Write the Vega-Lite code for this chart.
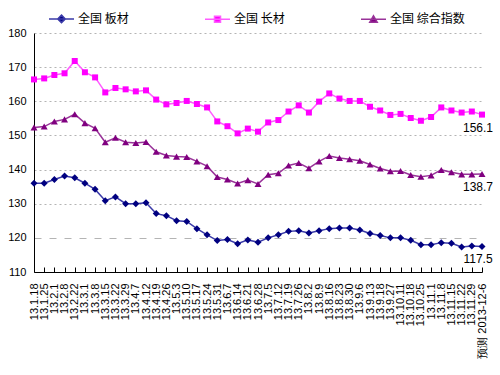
{
"$schema": "https://vega.github.io/schema/vega-lite/v6.json",
"width": 448, "height": 239,
"autosize": "none",
"padding": {"left": 34, "top": 33, "right": 18, "bottom": 103},
"background": "white",
"config": {"view": {"stroke": null}, "font": "Liberation Sans"},
"data": {"values": [
{"d":"13.1.18","b":136,"c":166.4,"z":152.3},
{"d":"13.1.25","b":136,"c":166.7,"z":152.6},
{"d":"13.2.1","b":137.1,"c":167.7,"z":154.1},
{"d":"13.2.8","b":138.1,"c":168.2,"z":154.7},
{"d":"13.2.22","b":137.6,"c":171.8,"z":156.2},
{"d":"13.3.1","b":136,"c":168.5,"z":153.6},
{"d":"13.3.8","b":134.2,"c":167,"z":152.1},
{"d":"13.3.15","b":130.9,"c":162.6,"z":148},
{"d":"13.3.22","b":132,"c":163.9,"z":149.3},
{"d":"13.3.29","b":130,"c":163.5,"z":148},
{"d":"13.4.7","b":130,"c":162.9,"z":147.8},
{"d":"13.4.12","b":130.3,"c":163.2,"z":148.1},
{"d":"13.4.19","b":127.1,"c":160.5,"z":145.2},
{"d":"13.4.26","b":126.5,"c":159.1,"z":144.1},
{"d":"13.5.3","b":125,"c":159.5,"z":143.8},
{"d":"13.5.10","b":124.8,"c":160.1,"z":143.7},
{"d":"13.5.17","b":122.7,"c":159.2,"z":142.4},
{"d":"13.5.24","b":120.9,"c":158.2,"z":141},
{"d":"13.5.31","b":119.2,"c":154.1,"z":137.8},
{"d":"13.6.7","b":119.5,"c":152.7,"z":137.1},
{"d":"13.6.14","b":118.3,"c":150.6,"z":135.9},
{"d":"13.6.21","b":119.4,"c":152,"z":136.9},
{"d":"13.6.28","b":118.7,"c":151.1,"z":135.8},
{"d":"13.7.5","b":120,"c":153.8,"z":138.5},
{"d":"13.7.12","b":120.9,"c":154.5,"z":138.9},
{"d":"13.7.19","b":121.9,"c":157,"z":141.2},
{"d":"13.7.26","b":122.1,"c":158.8,"z":141.9},
{"d":"13.8.2","b":121.4,"c":156.7,"z":140.4},
{"d":"13.8.9","b":122.1,"c":159.9,"z":142.4},
{"d":"13.8.16","b":122.7,"c":162.3,"z":144},
{"d":"13.8.23","b":122.9,"c":160.8,"z":143.4},
{"d":"13.8.30","b":122.9,"c":160.1,"z":143},
{"d":"13.9.6","b":122.3,"c":160.1,"z":142.6},
{"d":"13.9.13","b":121.3,"c":158.4,"z":141.5},
{"d":"13.9.18","b":120.7,"c":157.3,"z":140.3},
{"d":"13.9.27","b":120,"c":156,"z":139.5},
{"d":"13.10.11","b":120,"c":156.3,"z":139.6},
{"d":"13.10.18","b":119.3,"c":155.1,"z":138.4},
{"d":"13.10.25","b":118,"c":154.3,"z":137.9},
{"d":"13.11.1","b":118,"c":155.4,"z":138.3},
{"d":"13.11.8","b":118.6,"c":158.2,"z":139.9},
{"d":"13.11.15","b":118.4,"c":157.3,"z":139.2},
{"d":"13.11.22","b":117.3,"c":156.7,"z":138.6},
{"d":"13.11.29","b":117.6,"c":157,"z":138.6},
{"d":"预测 2013-12-6","b":117.5,"c":156.1,"z":138.7}
]},
"encoding": {
  "x": {"field":"d","type":"ordinal","sort":null,"scale":{"type":"point","padding":0},
        "axis":{"title":null,"labelAngle":-90,"labelFontSize":11,"labelFont":"Liberation Sans","labelColor":"#000","domainColor":"#000","tickColor":"#000","tickSize":-5,"labelPadding":16,"labelOverlap":false,"grid":false}},
  "y": {"field":"v","type":"quantitative","scale":{"domain":[110,180],"nice":false,"zero":false},
        "axis":{"title":null,"values":[110,120,130,140,150,160,170,180],"ticks":false,"labelPadding":8,"labelFontSize":11,"labelColor":"#000","domainColor":"#000","grid":true,"gridColor":"#B4B4B4",
                "gridDash":{"condition":{"test":"datum.value == 120","value":[7,8]},"value":[2,3]},
                "gridOpacity":{"condition":{"test":"datum.value == 110","value":0},"value":1}}}
},
"layer": [
  {"transform": [{"fold": ["b","c","z"], "as": ["k","v"]}],
   "mark":{"type":"line","strokeWidth":1.5},
   "encoding":{"stroke":{"field":"k","type":"nominal","scale":{"domain":["b","c","z"],"range":["#3A3AA8","#FF5CFF","#993399"]}}}},
  {"transform": [{"fold": ["b"], "as": ["k2","v"]}],
   "mark":{"type":"point","filled":true,"opacity":1,"shape":"diamond","size":49,"color":"#000080"}},
  {"transform": [{"fold": ["c"], "as": ["k2","v"]}],
   "mark":{"type":"point","filled":true,"opacity":1,"shape":"square","size":36,"color":"#FF00FF"}},
  {"transform": [{"fold": ["z"], "as": ["k2","v"]}],
   "mark":{"type":"point","filled":true,"opacity":1,"shape":"triangle-up","size":49,"color":"#800080"}},
  {"transform": [{"fold": ["b","c","z"], "as": ["k","v"]},{"filter":"false"}],
   "mark":{"type":"point","filled":true,"opacity":1,"size":625,"strokeWidth":1.5},
   "encoding":{
     "shape":{"field":"k","type":"nominal","scale":{"domain":["b","c","z"],"range":["M-1,0L1,0M0,-0.3L0.3,0L0,0.3L-0.3,0Z","M-1,0L1,0M-0.24,-0.24L0.24,-0.24L0.24,0.24L-0.24,0.24Z","M-1,0L1,0M0,-0.28L0.3,0.24L-0.3,0.24Z"]},
       "legend":{"orient":"none","legendX":14,"legendY":-28,"direction":"horizontal","columns":3,"columnPadding":73,"title":null,
       "labelFont":"Noto Sans CJK SC","labelFontSize":12,"labelColor":"#000","labelOffset":3,"symbolSize":625,"symbolStrokeWidth":1.5,"symbolOpacity":1,"padding":0,
       "labelExpr":"datum.value == 'b' ? '全国 板材' : datum.value == 'c' ? '全国 长材' : '全国 综合指数'"}},
     "fill":{"field":"k","type":"nominal","scale":{"domain":["b","c","z"],"range":["#000080","#FF00FF","#800080"]}},
     "stroke":{"field":"k","type":"nominal"}}},
  {"transform":[{"fold": ["b","c","z"], "as": ["k2","v"]},{"filter":"datum.d == '预测 2013-12-6'"}],
   "mark":{"type":"text","dy":13,"dx":-4,"fontSize":12,"font":"Liberation Sans","color":"#000"},
   "encoding":{"text":{"field":"v","type":"quantitative","format":".1f"}}}
]
}
